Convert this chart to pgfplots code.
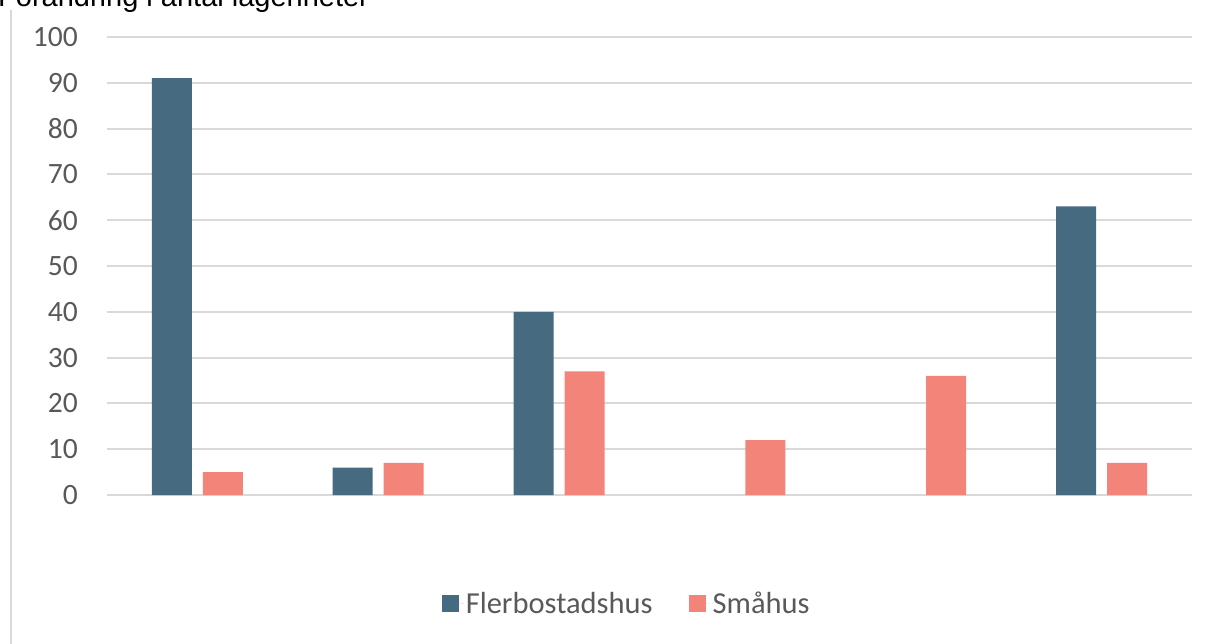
\documentclass[border=0pt]{standalone}
\usepackage{pgfplots}
\pgfplotsset{compat=1.18}
\usepackage{fontspec}
\setmainfont{Carlito}
\newfontfamily\arialfont{Liberation Sans}
\definecolor{dark}{HTML}{466A7F}
\definecolor{salmon}{HTML}{F3847A}
\definecolor{gridc}{HTML}{D9D9D9}
\definecolor{txt}{HTML}{595959}
\begin{document}
\begin{tikzpicture}
\begin{axis}[
  scale only axis, width=1085bp, height=458bp,
  xmin=-0.5, xmax=5.5, ymin=0, ymax=100,
  ytick={0,10,...,100},
  xtick=\empty,
  axis line style={draw=none},
  ymajorgrids, grid style={draw=gridc, line width=2bp},
  major tick length=0pt,
  y tick label style={inner sep=0pt, anchor=east, xshift=-29bp},
  tick label style={font=\fontsize{29.5bp}{34bp}\selectfont, text=txt},
  /pgf/number format/assume math mode=true,
  ybar, bar width=40bp,
  legend style={at={(0.479,-0.237)}, anchor=center, draw=none, fill=none,
    legend columns=2, font=\fontsize{30.5bp}{35bp}\selectfont, text=txt,
    /tikz/every even column/.append style={column sep=34bp}},
  legend image code/.code={\fill[#1] (0bp,-8.5bp) rectangle (17bp,8.5bp); \path (0bp,0bp) -- (22bp,0bp);},
]
\addplot[fill=dark, draw=none, bar shift=-25.5bp] coordinates {(0,91) (1,6) (2,40) (5,63)};
\addplot[fill=salmon, draw=none, bar shift=25.5bp] coordinates {(0,5) (1,7) (2,27) (3,12) (4,26) (5,7)};
\legend{Flerbostadshus, Småhus}
\end{axis}
\draw[gridc, line width=2bp] (-96bp,485bp) -- (-96bp,-160bp);
\node[anchor=base west, inner sep=0pt, font=\arialfont\fontsize{29bp}{34bp}\selectfont] at (-109bp,488bp) {Förändring i antal lägenheter};
\pgfresetboundingbox
\useasboundingbox (-107bp,-149bp) rectangle (1109bp,495bp);
\end{tikzpicture}
\end{document}
